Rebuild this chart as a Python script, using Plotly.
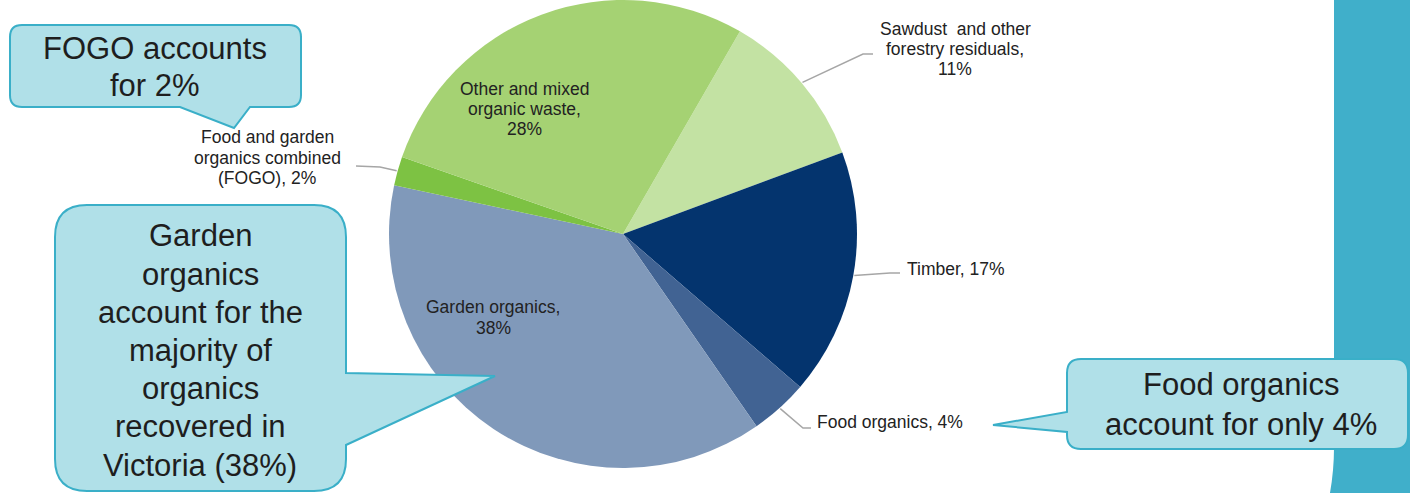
import math
import plotly.graph_objects as go

W, H = 1410, 493

# ---- data ----
categories = ["Sawdust and other forestry residuals", "Timber", "Food organics",
              "Garden organics", "Food and garden organics combined (FOGO)",
              "Other and mixed organic waste"]
label_text = ["Sawdust  and other<br>forestry residuals,<br>{v}%", "Timber, {v}%",
              "Food organics, {v}%", "Garden organics,<br>{v}%",
              "Food and garden<br>organics combined<br>(FOGO), {v}%",
              "Other and mixed<br>organic waste,<br>{v}%"]
values = [11, 17, 4, 38, 2, 28]
colors = ["#C3E2A3", "#04346E", "#416393", "#8099BA", "#7DC243", "#A5D273"]
callout_texts = ["FOGO accounts<br>for 2%",
                 "Garden<br>organics<br>account for the<br>majority of<br>organics<br>recovered in<br>Victoria (38%)",
                 "Food organics<br>account for only 4%"]

# ---- geometry (pixels) ----
CX, CY, R = 623, 234, 234
ROT = 30


def px(x):
    return x / W


def py(y):
    return 1 - y / H


def P(x, y):
    return f"{px(x):.5f},{py(y):.5f}"


fig = go.Figure()
fig.add_trace(go.Pie(
    labels=categories, values=values, sort=False, direction="clockwise",
    rotation=ROT, textinfo="none", hoverinfo="label+percent",
    marker=dict(colors=colors, line=dict(width=0)),
    domain=dict(x=[px(CX - R), px(CX + R)], y=[py(CY + R), py(CY - R)]),
    showlegend=False,
))

# slice mid angles
total = sum(values)
mids = []
acc = 0
for v in values:
    mids.append(ROT + (acc + v / 2) / total * 360)
    acc += v


def edge(i, extra=1):
    a = math.radians(mids[i])
    return CX + (R + extra) * math.sin(a), CY - (R + extra) * math.cos(a)


shapes = []
# teal strip
shapes.append(dict(type="path", xref="paper", yref="paper", layer="below",
                   path=f"M {P(1334,0)} L {P(1410,0)} L {P(1410,493)} L {P(1330,493)} Q {P(1334,470)} {P(1334,448)} Z",
                   fillcolor="#40AFCA", line=dict(width=0)))


def callout(x0, y0, x1, y1, r, side, a, tip, b):
    s = f"M {P(x0+r,y0)} L {P(x1-r,y0)} Q {P(x1,y0)} {P(x1,y0+r)} "
    if side == "right":
        s += f"L {P(x1,a)} L {P(*tip)} L {P(x1,b)} "
    s += f"L {P(x1,y1-r)} Q {P(x1,y1)} {P(x1-r,y1)} "
    if side == "bottom":
        s += f"L {P(a,y1)} L {P(*tip)} L {P(b,y1)} "
    s += f"L {P(x0+r,y1)} Q {P(x0,y1)} {P(x0,y1-r)} "
    if side == "left":
        s += f"L {P(x0,a)} L {P(*tip)} L {P(x0,b)} "
    s += f"L {P(x0,y0+r)} Q {P(x0,y0)} {P(x0+r,y0)} Z"
    return dict(type="path", xref="paper", yref="paper", layer="above", path=s,
                fillcolor="#B0E0E8", line=dict(color="#3AAFC8", width=2))


shapes.append(callout(10, 25, 301, 107, 12, "bottom", 250, (234, 128), 180))
shapes.append(callout(55, 205, 346, 491, 32, "right", 373, (495, 376), 445))
shapes.append(callout(1067, 359, 1408, 449, 14, "left", 432, (993, 425), 412))

# leader lines
leaders = {
    0: [(863, 54), (873, 54)],
    1: [(890, 273), (900, 273)],
    2: [(803, 428), (811, 428)],
    4: [(380, 167), (356, 166)],
}
for i, pts in leaders.items():
    sx, sy = edge(i, 1)
    path = f"M {P(sx,sy)} " + " ".join(f"L {P(x,y)}" for x, y in pts)
    shapes.append(dict(type="path", xref="paper", yref="paper", layer="above",
                       path=path, line=dict(color="#A6A6A6", width=1.5)))

annotations = []
SMALL = 17.5
BIG = 31
small = dict(family="Liberation Sans, Arial, sans-serif", size=SMALL, color="#222222")
big = dict(family="Liberation Sans, Arial, sans-serif", size=BIG, color="#1E1E1E")

# label anchor: x, first baseline, line step, xanchor
label_pos = [
    (955, 35, 20, "center"),
    (905, 275, 20, "left"),
    (815, 428.3, 20, "left"),
    (493, 313.3, 21, "center"),
    (267, 143.5, 20.5, "center"),
    (524, 95, 20, "center"),
]


def add_lines(text, x, base, step, xa, font):
    for k, line in enumerate(text.split("<br>")):
        yb = base + k * step
        annotations.append(dict(xref="paper", yref="paper", x=px(x),
                                y=py(yb - 0.35 * font["size"]), text=line,
                                showarrow=False, xanchor=xa, yanchor="middle",
                                align="center", font=font))


for i, (x, b, st, xa) in enumerate(label_pos):
    add_lines(label_text[i].format(v=values[i]), x, b, st, xa, small)

callout_pos = [(154.5, 59.3, 37.4), (200.4, 246.7, 38.2), (1241, 395, 40)]
for (x, b, st), t in zip(callout_pos, callout_texts):
    add_lines(t, x, b, st, "center", big)

fig.update_layout(width=W, height=H, margin=dict(l=0, r=0, t=0, b=0),
                  paper_bgcolor="white", plot_bgcolor="white",
                  shapes=shapes, annotations=annotations, showlegend=False)
fig.write_html("out.html")
